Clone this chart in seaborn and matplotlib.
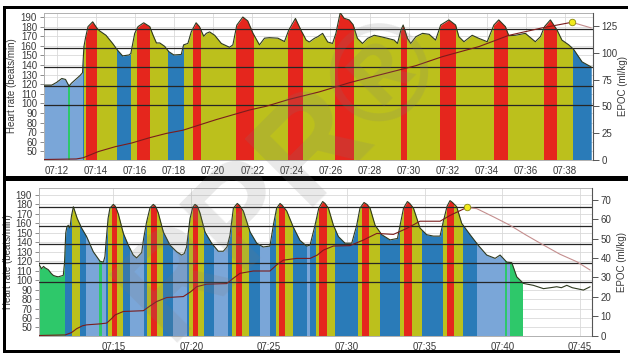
import matplotlib
matplotlib.use("Agg")
import matplotlib.pyplot as plt
from matplotlib.patches import Rectangle
import seaborn as sns
import numpy as np

# zone colours (1 = 50-60 % ... 5 = 90-100 % HRmax)
zone_colors = {1: "#2ec86a", 2: "#7aa6d8", 3: "#2a7bb8", 4: "#bcc01c", 5: "#e5261d"}
zone_limits = [98.5, 118.2, 137.9, 157.6, 177.3]

# ---- top session (minutes after 07:00) ----
top_time = [11.35, 11.74, 12.0, 12.26, 12.45, 12.63, 12.75, 13.19, 13.32, 13.39, 13.47, 13.6,
            13.84, 14.07, 14.2, 14.52, 14.86, 15.11, 15.37, 15.7, 15.79, 15.99, 16.16, 16.45,
            16.76, 16.93, 17.1, 17.27, 17.52, 17.73, 17.99, 18.37, 18.49, 18.71, 18.88, 19.13,
            19.3, 19.52, 19.65, 19.82, 20.08, 20.42, 20.84, 21.01, 21.21, 21.52, 21.77, 22.04,
            22.37, 22.63, 22.88, 23.31, 23.65, 23.87, 24.21, 24.5, 24.76, 24.92, 25.18, 25.35,
            25.6, 25.86, 26.11, 26.28, 26.5, 26.7, 26.96, 27.16, 27.38, 27.64, 27.9, 28.24,
            28.58, 28.92, 29.26, 29.43, 29.6, 29.72, 29.94, 30.11, 30.37, 30.71, 31.05, 31.38,
            31.64, 32.06, 32.4, 32.57, 32.83, 33.25, 33.59, 34.02, 34.36, 34.61, 34.95, 35.12,
            35.46, 35.97, 36.48, 36.74, 36.95, 37.25, 37.59, 37.84, 38.19, 38.44, 38.87, 39.34]
top_hr = [119, 119, 122, 126, 125, 118, 121, 129, 132, 159, 168, 180,
          185, 178, 175.5, 171, 162.5, 155.5, 149.5, 150.5, 152, 173, 180, 184,
          180, 171, 163, 163, 159.5, 154, 150.5, 151, 161, 162.5, 174.5, 184,
          180, 170, 173, 174.5, 171, 162.5, 158.5, 161, 181.5, 190, 186, 173,
          161, 168, 168.5, 168, 164.5, 176.5, 188.5, 176, 166, 164, 167.8, 169.5,
          173, 164, 162.5, 173, 194.5, 188.7, 187, 182, 167.8, 162.5, 167.8, 171,
          169.5, 167.8, 166, 162.5, 176, 181.7, 167.8, 162.5, 169.5, 173, 172, 166,
          181.7, 187, 181.7, 169.5, 164.3, 171, 167.8, 164.3, 181.7, 187, 180, 170.5,
          171, 173, 164.3, 169.5, 180, 187, 176.5, 166, 161, 156.3, 143.3, 138]
top_band_edges = [11.35, 12.60, 12.66, 13.32, 13.38, 13.50, 14.06, 15.10, 15.80, 16.10, 16.79,
                  17.70, 18.50, 18.95, 19.37, 21.18, 22.10, 23.82, 24.62, 26.25, 27.20, 29.60,
                  29.94, 31.60, 32.40, 34.36, 35.09, 36.91, 37.59, 38.41, 39.34]
top_band_zone = [2, 1, 2, 3, 4, 5, 4, 3, 4, 5,
                 4, 3, 4, 5, 4, 5, 4, 5, 4, 5,
                 4, 5, 4, 5, 4, 5, 4, 5, 4, 3]
top_epoc_time = [11.35, 13.0, 13.35, 14.14, 14.99, 15.84, 16.76, 17.61, 18.46, 19.31, 20.17,
                 21.02, 21.87, 22.72, 23.9, 25.44, 26.96, 28.32, 30.36, 31.72, 33.6, 35.12,
                 36.82, 38.35, 39.34]
top_epoc = [0, 0.5, 1.6, 7.5, 12, 15.5, 20.5, 24.5, 27.5, 32.5, 37.5,
            42, 46.5, 50, 56.5, 63.5, 72, 78.5, 88, 96.5, 106, 116.5,
            123.5, 128.8, 123.5]
top_ticks = [12, 14, 16, 18, 20, 22, 24, 26, 28, 30, 32, 34, 36, 38]
top_epoc_ticks = [0, 25, 50, 75, 100, 125]

# ---- bottom session ----
bot_time = [10.21, 10.38, 10.5, 10.6, 10.81, 11.0, 11.13, 11.3, 11.45, 11.77, 11.85, 11.93,
            12.0, 12.09, 12.2, 12.3, 12.42, 12.67, 12.95, 13.27, 13.7, 14.13, 14.35, 14.45,
            14.52, 14.65, 14.77, 14.99, 15.12, 15.31, 15.63, 15.95, 16.27, 16.49, 16.81, 16.95,
            17.13, 17.35, 17.56, 17.7, 17.88, 18.2, 18.63, 19.06, 19.38, 19.55, 19.7, 19.92,
            20.1, 20.24, 20.4, 20.56, 20.88, 21.31, 21.74, 22.06, 22.3, 22.49, 22.71, 22.96,
            23.1, 23.35, 23.78, 24.21, 24.63, 25.06, 25.28, 25.49, 25.71, 25.85, 26.14, 26.56,
            26.99, 27.42, 27.64, 27.96, 28.2, 28.45, 28.6, 28.82, 29.14, 29.46, 29.89, 30.32,
            30.64, 30.85, 31.11, 31.3, 31.5, 31.82, 32.25, 32.78, 33.26, 33.43, 33.65, 33.9,
            34.05, 34.29, 34.71, 35.14, 35.57, 36.0, 36.21, 36.45, 36.64, 36.8, 37.07, 37.39,
            37.93, 38.47, 39.0, 39.54, 39.86, 40.29, 40.61, 40.93, 41.36, 42.0, 42.65, 43.1,
            43.5, 43.8, 44.15, 44.5, 44.79, 45.22, 45.65]
bot_hr = [116.5, 112, 114.5, 113, 111, 107, 105, 104, 103.5, 105, 118, 150,
          156, 158, 155, 168, 177.5, 165, 155, 146, 130, 120, 119, 125,
          140, 165, 176, 180, 178, 170, 149.5, 137, 126.5, 123.5, 129, 145,
          161.5, 176.5, 180, 178, 171, 151, 137, 130, 126.5, 128, 135, 165,
          177, 180, 178, 171, 151, 139, 130.5, 130.5, 135, 147.5, 176, 181,
          179, 173, 151, 139, 135, 136, 158, 176, 181, 179, 173, 156,
          142, 136, 137, 158, 176, 183, 181, 176, 158, 146, 139, 139,
          158, 176, 182, 180, 176, 158, 148, 142.5, 144, 158, 176, 183,
          181, 176, 155, 148, 146.5, 146.5, 162, 178, 184, 182, 177.5, 160,
          148, 136.5, 126.5, 123, 126.5, 119, 118.5, 103.5, 96.5, 94.5, 91, 92,
          93, 92, 94.5, 92, 91, 89.5, 93]
bot_band_edges = [10.21, 11.88, 12.31, 12.84, 13.23, 14.09, 14.24, 14.52, 14.67, 14.88, 15.20,
                  15.59, 16.06, 16.96, 17.17, 17.39, 17.82, 18.20, 18.80, 19.75, 19.88, 20.09,
                  20.45, 20.85, 21.45, 22.35, 22.62, 22.85, 23.25, 23.72, 24.40, 25.07, 25.45,
                  25.65, 26.05, 26.57, 27.43, 27.62, 28.05, 28.20, 28.71, 29.25, 30.70, 30.96,
                  31.43, 32.12, 33.40, 33.68, 34.18, 34.82, 36.19, 36.43, 36.88, 37.45, 38.40,
                  40.18, 40.33, 40.50, 41.25]
bot_band_zone = [1, 3, 4, 3, 2, 1, 2, 3, 4, 5,
                 4, 3, 2, 3, 4, 5, 4, 3, 2, 3,
                 4, 5, 4, 3, 2, 3, 4, 5, 4, 3,
                 2, 3, 4, 5, 4, 3, 2, 3, 4, 5,
                 4, 3, 4, 5, 4, 3, 4, 5, 4, 3,
                 4, 5, 4, 3, 2, 1, 2, 1]
bot_epoc_time = [10.21, 11.9, 12.3, 12.63, 13.0, 13.27, 14.13, 14.56, 14.85, 15.1, 15.63,
                 16.92, 17.3, 17.77, 18.42, 19.49, 19.95, 20.35, 20.99, 22.28, 22.7, 23.13,
                 23.99, 25.06, 25.5, 25.92, 26.78, 27.64, 28.1, 28.5, 29.14, 30.21, 31.07,
                 31.93, 33.0, 33.86, 34.71, 36.0, 36.64, 37.72, 38.36, 39.5, 40.5, 41.5,
                 42.65, 43.7, 44.79, 45.65]
bot_epoc = [0, 0.3, 1.5, 3.5, 5, 5.5, 6, 6.4, 8.5, 10.6, 12.4,
            12.8, 15, 17.5, 19.6, 20.1, 22.5, 25.2, 26.5, 26.8, 29.5, 32.1,
            33.3, 33.3, 36.5, 38.9, 39.8, 39.8, 41.5, 44.1, 46.2, 46.4, 49.3,
            52.7, 52.2, 55.3, 59, 59, 62, 66.1, 65.5, 61, 56.9, 52,
            46.7, 42, 38.1, 33.8]
bot_ticks = [15, 20, 25, 30, 35, 40, 45]
bot_epoc_ticks = [0, 10, 20, 30, 40, 50, 60, 70]

hr_ticks = list(range(50, 200, 10))

sns.set_style("whitegrid")
plt.rcParams["font.family"] = ["Liberation Sans", "DejaVu Sans"]
plt.rcParams["font.size"] = 7

W, H = 628, 355
fig = plt.figure(figsize=(W / 100, H / 100), dpi=100)
fig.patch.set_facecolor("white")


def draw_panel(ax, time, hr, edges, zones, etime, epoc, xlim, ylim, elim, ticks, eticks):
    ax.set_xlim(*xlim)
    ax.set_ylim(*ylim)
    ax.set_axisbelow(True)
    ax.grid(True, color="#d9d9d9", lw=0.6)
    # zone coloured fill under the heart rate curve
    for i, z in enumerate(zones):
        t0, t1 = edges[i], edges[i + 1]
        poly = ax.fill_between(time, hr, ylim[0], color=zone_colors[z], lw=0, zorder=1)
        rect = Rectangle((t0, ylim[0]), t1 - t0 + 0.01, ylim[1] - ylim[0], transform=ax.transData)
        poly.set_clip_path(rect)
    for lim in zone_limits:
        ax.axhline(lim, color="#262626", lw=0.9, zorder=3)
    sns.lineplot(x=time, y=hr, ax=ax, color="#2f3a20", lw=0.8, zorder=4, estimator=None)
    ax.set_xticks(ticks)
    ax.set_xticklabels([f"07:{m:02d}" for m in ticks])
    ax.set_yticks(hr_ticks)
    ax.set_xlabel("")
    ax.set_ylabel("")
    ax.tick_params(axis="both", colors="#8c8c8c", labelcolor="#3a3a3a", length=3, width=0.7,
                   labelsize=7, pad=2)
    for s in ax.spines.values():
        s.set_color("#b0b0b0")
        s.set_linewidth(0.7)

    ax2 = ax.twinx()
    ax2.set_ylim(*elim)
    ax2.grid(False)
    k = int(np.argmax(epoc))
    sns.lineplot(x=etime[:k + 1], y=epoc[:k + 1], ax=ax2, color="#7a1c1c", lw=0.8, estimator=None)
    sns.lineplot(x=etime[k:], y=epoc[k:], ax=ax2, color="#c48e8e", lw=0.8, estimator=None)
    ax2.scatter([etime[k]], [epoc[k]], s=22, color="#f2ea1c", edgecolor="#8a8a10", lw=0.6, zorder=6)
    ax2.set_yticks(eticks)
    ax2.set_ylabel("")
    ax2.tick_params(axis="y", colors="#555555", labelcolor="#3a3a3a", length=4, width=0.7,
                    labelsize=7, pad=2)
    for s in ax2.spines.values():
        s.set_visible(False)
    ax2.spines["right"].set_visible(True)
    ax2.spines["right"].set_color("#555555")
    ax2.spines["right"].set_linewidth(0.8)
    return ax2


ax_top = fig.add_axes([44 / W, 1 - 159.5 / H, (593 - 44) / W, (159.5 - 13) / H])
draw_panel(ax_top, top_time, top_hr, top_band_edges, top_band_zone, top_epoc_time, top_epoc,
           (11.35, 39.43), (41.6, 194.2), (0, 137.5), top_ticks, top_epoc_ticks)

ax_bot = fig.add_axes([39 / W, 1 - 335.5 / H, (592 - 39) / W, (335.5 - 188.3) / H])
draw_panel(ax_bot, bot_time, bot_hr, bot_band_edges, bot_band_zone, bot_epoc_time, bot_epoc,
           (10.21, 45.77), (41.5, 197), (0, 76), bot_ticks, bot_epoc_ticks)

# axis titles
fig.text(12 / W, 1 - 86 / H, "Heart rate (beats/min)", rotation=90, ha="center", va="center",
         fontsize=7, color="#3a3a3a")
fig.text(8 / W, 1 - 262 / H, "Heart rate (beats/min)", rotation=90, ha="center", va="center",
         fontsize=7, color="#3a3a3a")
fig.text(623 / W, 1 - 86 / H, "EPOC (ml/kg)", rotation=90, ha="center", va="center",
         fontsize=7, color="#3a3a3a")
fig.text(622 / W, 1 - 262 / H, "EPOC (ml/kg)", rotation=90, ha="center", va="center",
         fontsize=7, color="#3a3a3a")

# screenshot frames
for x0, y0, w, h in [(3, 6, 625, 2.5), (3, 6, 2.5, 347), (3, 175.5, 625, 5.5), (3, 349.5, 617, 3.5)]:
    fig.add_artist(Rectangle((x0 / W, 1 - (y0 + h) / H), w / W, h / H, transform=fig.transFigure,
                             color="black", lw=0, zorder=20))

# watermark
fig.text(0.45, 0.50, "RPR®", rotation=45, ha="center", va="center", fontsize=100,
         fontweight="bold", color="#7a7a7a", alpha=0.17, zorder=30)

fig.savefig("out.png", dpi=100)
